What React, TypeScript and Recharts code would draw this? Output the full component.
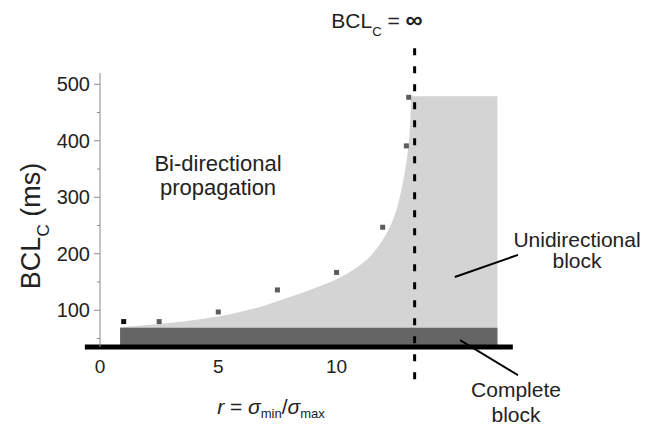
import {
  ComposedChart,
  Area,
  Scatter,
  Cell,
  XAxis,
  YAxis,
  ReferenceArea,
  ReferenceLine,
} from "recharts";

const FONT = "'Liberation Sans', Arial, Helvetica, sans-serif";

// measured critical BCL (ms) vs anisotropy ratio r
const pointR = [1, 2.5, 5, 7.5, 10, 11.95, 12.95, 13.05];
const pointBcl = [80, 80, 97, 136, 167, 247, 391, 477];
const pointColors = ["#111111", "#5c5c5c", "#5c5c5c", "#5c5c5c", "#5c5c5c", "#5c5c5c", "#5c5c5c", "#5c5c5c"];

// upper edge of the unidirectional-block region
const boundaryR = [0.85, 2, 3, 4, 5, 6, 7, 7.5, 8, 8.5, 9, 9.5, 10, 10.5, 11, 11.5, 12, 12.3, 12.55, 12.8, 13.0, 13.1, 13.17, 16.8];
const boundaryBcl = [70, 74, 78, 83, 89, 98, 109, 116, 123, 130, 138, 146, 155, 166, 180, 199, 228, 252, 280, 326, 378, 420, 479, 479];

// complete block band
const completeBlock = { r1: 0.85, r2: 16.8, bcl1: 35, bcl2: 69 };

const rInfinite = 13.3;
const xTicks = [0, 5, 10];
const yTicks = [50, 100, 150, 200, 250, 300, 350, 400, 450, 500];

const boundaryData = boundaryR.map((r, i) => ({ r, bcl: boundaryBcl[i] }));
const pointData = pointR.map((r, i) => ({ r, bcl: pointBcl[i] }));

const YTick = (props: any) => {
  const { x, y, payload } = props;
  const major = payload.value % 100 === 0;
  return (
    <g>
      <line x1={x - (major ? 6 : 3)} x2={x} y1={y} y2={y} stroke="#8a8a8a" strokeWidth={1} />
      {major && (
        <text x={x - 10} y={y + 7} textAnchor="end" fontSize={20} fontFamily={FONT} fill="#222">
          {payload.value}
        </text>
      )}
    </g>
  );
};

const XTick = (props: any) => {
  const { x, y, payload } = props;
  return (
    <text x={x} y={y + 26} textAnchor="middle" fontSize={19} fontFamily={FONT} fill="#222">
      {payload.value}
    </text>
  );
};

const Square = (props: any) => (
  <rect x={props.cx - 2.5} y={props.cy - 2.5} width={5} height={5} fill={props.fill} />
);

export default function App() {
  return (
    <div style={{ position: "absolute", left: 0, top: 0, width: 657, height: 425, background: "#fff" }}>
      <ComposedChart
        width={657}
        height={425}
        data={boundaryData}
        margin={{ top: 73, right: 143, bottom: 48, left: 40 }}
      >
        <XAxis
          type="number"
          dataKey="r"
          domain={[0, 17.5]}
          allowDataOverflow
          ticks={xTicks}
          axisLine={false}
          tickLine={false}
          tickSize={0}
          tickMargin={0}
          height={30}
          tick={<XTick />}
        />
        <YAxis
          type="number"
          domain={[35, 520]}
          allowDataOverflow
          ticks={yTicks}
          width={60}
          axisLine={{ stroke: "#8a8a8a", strokeWidth: 1 }}
          tickLine={false}
          tickSize={0}
          tickMargin={0}
          interval={0}
          tick={<YTick />}
        />
        <Area
          type="monotone"
          dataKey="bcl"
          stroke="none"
          fill="#d4d4d4"
          fillOpacity={1}
          isAnimationActive={false}
        />
        <ReferenceArea
          x1={completeBlock.r1}
          x2={completeBlock.r2}
          y1={completeBlock.bcl1}
          y2={completeBlock.bcl2}
          fill="#656565"
          fillOpacity={1}
          stroke="none"
          ifOverflow="visible"
        />
        <ReferenceLine
          segment={[{ x: -0.64, y: 35 }, { x: 17.45, y: 35 }]}
          stroke="#000"
          strokeWidth={5}
          ifOverflow="visible"
        />
        <ReferenceLine
          segment={[{ x: rInfinite, y: 564 }, { x: rInfinite, y: -32 }]}
          stroke="#000"
          strokeWidth={3}
          strokeDasharray="7 11"
          ifOverflow="visible"
        />
        <ReferenceLine
          segment={[{ x: 15.0, y: 159 }, { x: 17.67, y: 198 }]}
          stroke="#000"
          strokeWidth={2}
          ifOverflow="visible"
        />
        <ReferenceLine
          segment={[{ x: 15.22, y: 47 }, { x: 17.67, y: -15 }]}
          stroke="#000"
          strokeWidth={2}
          ifOverflow="visible"
        />
        <Scatter data={pointData} dataKey="bcl" shape={<Square />} isAnimationActive={false}>
          {pointData.map((_, i) => (
            <Cell key={i} fill={pointColors[i]} />
          ))}
        </Scatter>
      </ComposedChart>
      <svg
        width={657}
        height={425}
        style={{ position: "absolute", left: 0, top: 0, pointerEvents: "none" }}
        fontFamily={FONT}
        fill="#222"
      >
        <text x={377} y={28} textAnchor="middle" fontSize={21}>
          <tspan>BCL</tspan>
          <tspan dy={8} fontSize={13}>C</tspan>
          <tspan dy={-8}> = </tspan>
          <tspan fontWeight="bold" fontSize={24}>∞</tspan>
        </text>
        <text transform="translate(39.5,226) rotate(-90)" textAnchor="middle" fontSize={27}>
          <tspan>BCL</tspan>
          <tspan dy={9} fontSize={17}>C</tspan>
          <tspan dy={-9}> (ms)</tspan>
        </text>
        <text x={271} y={414} textAnchor="middle" fontSize={21}>
          <tspan fontStyle="italic">r</tspan>
          <tspan> = </tspan>
          <tspan fontStyle="italic">σ</tspan>
          <tspan dy={4} fontSize={13}>min</tspan>
          <tspan dy={-4}>/</tspan>
          <tspan fontStyle="italic">σ</tspan>
          <tspan dy={4} fontSize={13}>max</tspan>
        </text>
        <text x={218} y={171} textAnchor="middle" fontSize={22}>Bi-directional</text>
        <text x={218} y={195} textAnchor="middle" fontSize={22}>propagation</text>
        <text x={577} y={247} textAnchor="middle" fontSize={21}>Unidirectional</text>
        <text x={577} y={268} textAnchor="middle" fontSize={21}>block</text>
        <text x={516} y={397} textAnchor="middle" fontSize={21}>Complete</text>
        <text x={516} y={422} textAnchor="middle" fontSize={21}>block</text>
      </svg>
    </div>
  );
}
